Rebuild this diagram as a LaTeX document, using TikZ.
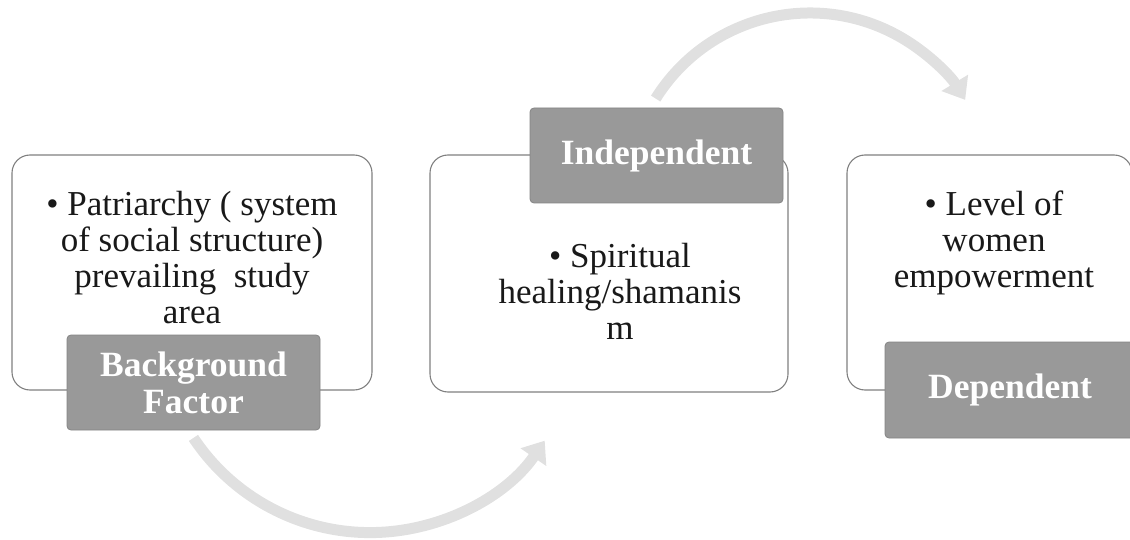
\documentclass[tikz,border=0pt]{standalone}
\usepackage{fontspec}
\setmainfont{Liberation Serif}
\usetikzlibrary{arrows.meta}
\begin{document}
\begin{tikzpicture}[x=1pt,y=1pt,
  mainbox/.style={draw=black!50, line width=1.1pt, fill=white, rounded corners=18pt},
  labelbox/.style={draw=black!48, line width=0.8pt, fill=black!40, rounded corners=4pt,
    text=white, font=\fontsize{35.5}{37}\selectfont\bfseries, align=center},
  bodytext/.style={font=\fontsize{35}{36}\selectfont, align=center, text=black!90},
  bigarrow/.style={draw=black!12, line width=11pt,
    -{Triangle[width=30pt,length=20pt]}}]
\useasboundingbox (0,0) rectangle (1130,539);
% curved arrows
\coordinate (c1) at (810,344);
\coordinate (c2) at (370,218.4);
\draw[bigarrow] (c1) ++(148:182) arc[start angle=148, end angle=31.5, radius=182];
\draw[bigarrow] (c2) ++(213.6:212) arc[start angle=213.6, end angle=325.5, radius=212];
% main boxes
\node[mainbox, minimum width=360pt, minimum height=235pt] (b1) at (192,266.5) {};
\node[mainbox, minimum width=358pt, minimum height=237pt] (b2) at (609,265.5) {};
\node[mainbox, minimum width=285pt, minimum height=235pt] (b3) at (989.5,266.5) {};
% texts
\node[bodytext] (t1) at (192,281) {• Patriarchy ( system\\of social structure)\\prevailing\ \ study\\area};
\node[bodytext] (t2) at (620,248) {• Spiritual\\healing/shamanis\\m};
\node[bodytext] (t3) at (994,296) {• Level of\\women\\empowerment};
% labels
\node[labelbox, minimum width=253pt, minimum height=95pt] (l1) at (193.5,156.5) {Background\\Factor};
\node[labelbox, minimum width=253pt, minimum height=95pt] (l2) at (656.5,383.5) {Independent};
\node[labelbox, minimum width=250pt, minimum height=96pt] (l3) at (1010,149) {Dependent};
\end{tikzpicture}
\end{document}
